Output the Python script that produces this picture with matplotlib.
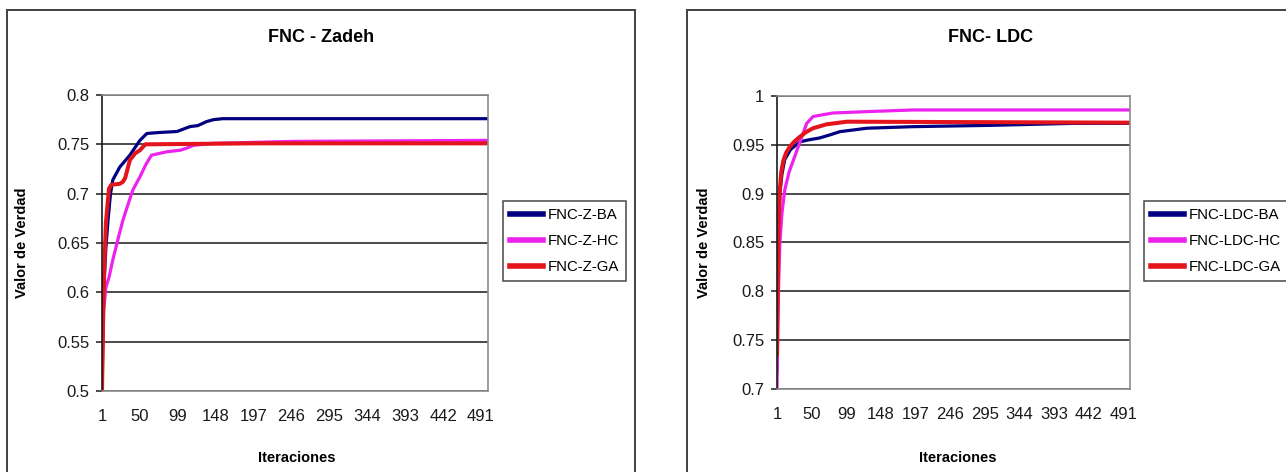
import matplotlib.pyplot as plt
from matplotlib.patches import Rectangle

plt.rcParams['font.family'] = ['Liberation Sans', 'DejaVu Sans']

# eje x (iteraciones) y etiquetas
iter_ticks = [1, 50, 99, 148, 197, 246, 295, 344, 393, 442, 491]
n_iter = 500

# FNC - Zadeh
z_ba_x = [1, 3, 6, 9, 12, 15, 24, 37, 50, 59, 75, 98, 108, 115, 125, 136, 145, 157, 500]
z_ba_y = [0.52, 0.60, 0.645, 0.675, 0.70, 0.714, 0.727, 0.739, 0.754, 0.761, 0.762, 0.763, 0.766, 0.768, 0.769, 0.773, 0.775, 0.776, 0.776]
z_hc_x = [1, 3, 6, 10, 15, 22, 28, 35, 41, 50, 58, 65, 85, 102, 110, 119, 145, 250, 500]
z_hc_y = [0.50, 0.58, 0.605, 0.615, 0.633, 0.655, 0.673, 0.69, 0.704, 0.717, 0.73, 0.739, 0.7425, 0.744, 0.746, 0.749, 0.751, 0.753, 0.754]
z_ga_x = [1, 3, 6, 10, 13, 24, 28, 31, 37, 44, 50, 57, 200, 500]
z_ga_y = [0.50, 0.60, 0.67, 0.705, 0.709, 0.71, 0.712, 0.716, 0.734, 0.741, 0.744, 0.75, 0.751, 0.751]

# FNC - LDC
l_ba_x = [1, 2, 3, 5, 8, 12, 20, 33, 45, 61, 75, 90, 128, 193, 306, 420, 500]
l_ba_y = [0.72, 0.80, 0.86, 0.90, 0.92, 0.935, 0.945, 0.953, 0.955, 0.957, 0.96, 0.9635, 0.967, 0.9686, 0.970, 0.972, 0.972]
l_hc_x = [1, 2, 3, 5, 8, 12, 18, 24, 33, 43, 52, 80, 128, 193, 500]
l_hc_y = [0.70, 0.76, 0.80, 0.849, 0.88, 0.904, 0.922, 0.934, 0.952, 0.972, 0.979, 0.9826, 0.984, 0.9857, 0.9857]
l_ga_x = [1, 2, 3, 5, 7, 10, 14, 19, 25, 33, 42, 52, 71, 100, 500]
l_ga_y = [0.735, 0.80, 0.86, 0.904, 0.922, 0.934, 0.942, 0.948, 0.953, 0.958, 0.963, 0.967, 0.971, 0.9737, 0.9727]

W, H = 1286, 472
fig = plt.figure(figsize=(W / 100, H / 100), dpi=100)

col_ba = '#000080'
col_hc = '#EE22EE'
col_ga = '#E3141C'


def px(x0, y0, x1, y1):
    return [x0 / W, 1 - y1 / H, (x1 - x0) / W, (y1 - y0) / H]


def panel(box, ylim, yticks, series, labels, title, title_x, ylab_x, xlab_x, leg_xy):
    ax = fig.add_axes(box)
    for (xs, ys), lab, c, lw in zip(series, labels, [col_ba, col_hc, col_ga], [2.3, 2.3, 2.9]):
        ax.plot(xs, ys, color=c, lw=lw, label=lab, solid_joinstyle='round')
    ax.set_xlim(1, n_iter)
    ax.set_ylim(*ylim)
    ax.set_yticks(yticks)
    ax.set_yticklabels([f'{v:g}' for v in yticks])
    ax.set_xticks(iter_ticks)
    ax.set_xticklabels([str(t) for t in iter_ticks])
    ax.grid(axis='y', color='#1a1a1a', lw=1.1)
    ax.set_axisbelow(True)
    for s in ['top', 'right', 'bottom']:
        ax.spines[s].set_color('#8c8c8c')
        ax.spines[s].set_linewidth(1.2)
    ax.spines['left'].set_color('#1a1a1a')
    ax.spines['left'].set_linewidth(1.2)
    ax.tick_params(axis='y', length=4, width=1.1, pad=5, labelsize=12, colors='#1a1a1a')
    ax.tick_params(axis='x', length=0, pad=13, labelsize=12, colors='#1a1a1a')
    fig.text(title_x / W, 1 - 37 / H, title, ha='center', va='center', fontsize=13, fontweight='bold')
    fig.text(ylab_x / W, 1 - 243 / H, 'Valor de Verdad', rotation=90, ha='center', va='center',
             fontsize=10.5, fontweight='bold')
    fig.text(xlab_x / W, 1 - 458 / H, 'Iteraciones', ha='center', va='center', fontsize=10.5, fontweight='bold')
    leg = ax.legend(loc='upper left', bbox_to_anchor=(leg_xy[0] / W, 1 - leg_xy[1] / H),
                    bbox_transform=fig.transFigure, fontsize=10.8, frameon=True, fancybox=False,
                    handlelength=2.2, handletextpad=0.35, labelspacing=0.8, borderpad=0.45,
                    borderaxespad=0)
    leg.get_frame().set_edgecolor('#1a1a1a')
    leg.get_frame().set_linewidth(1.1)
    for h in leg.get_lines():
        h.set_linewidth(4)
    return ax


panel(px(102, 95, 488, 391), (0.5, 0.8), [0.5, 0.55, 0.6, 0.65, 0.7, 0.75, 0.8],
      [(z_ba_x, z_ba_y), (z_hc_x, z_hc_y), (z_ga_x, z_ga_y)],
      ['FNC-Z-BA', 'FNC-Z-HC', 'FNC-Z-GA'], 'FNC - Zadeh', 321, 22, 297, (503, 201))

panel(px(777, 96, 1130, 389), (0.7, 1.0), [0.7, 0.75, 0.8, 0.85, 0.9, 0.95, 1.0],
      [(l_ba_x, l_ba_y), (l_hc_x, l_hc_y), (l_ga_x, l_ga_y)],
      ['FNC-LDC-BA', 'FNC-LDC-HC', 'FNC-LDC-GA'], 'FNC- LDC', 991, 704, 958, (1144, 201))

# marcos exteriores de cada grafico
fig.add_artist(Rectangle((7 / W, -0.05), (635 - 7) / W, 1.05 - 10 / H, transform=fig.transFigure,
                         fill=False, edgecolor='#404040', lw=1.4))
fig.add_artist(Rectangle((687 / W, -0.05), 0.5, 1.05 - 10 / H, transform=fig.transFigure,
                         fill=False, edgecolor='#404040', lw=1.4))

fig.savefig('out.png', dpi=100)
